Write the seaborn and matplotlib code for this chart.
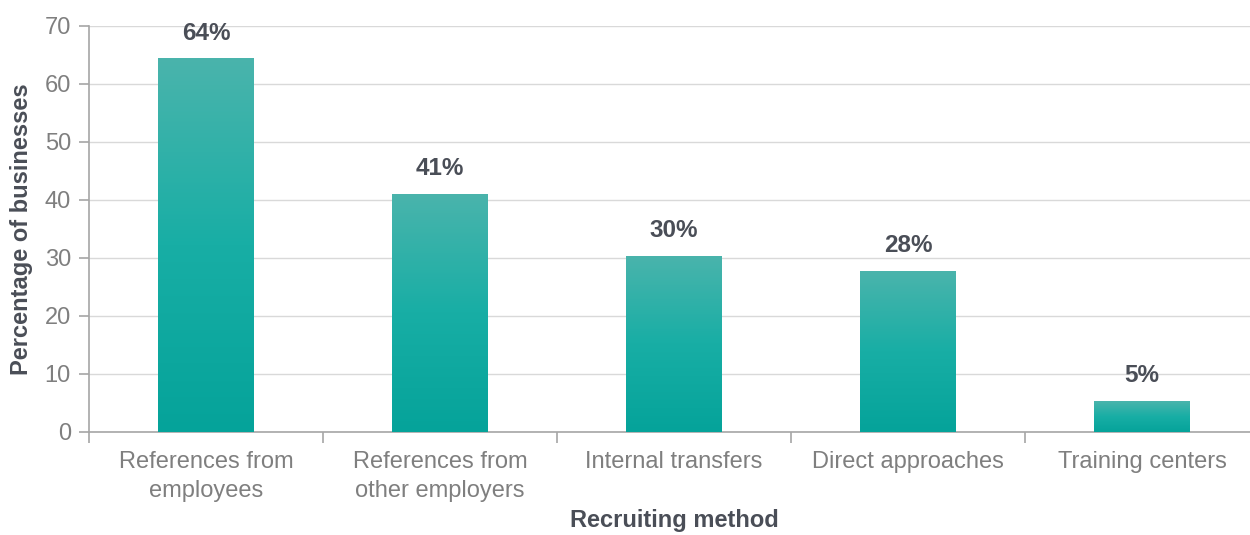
import numpy as np
import pandas as pd
import matplotlib
matplotlib.use("Agg")
import matplotlib.pyplot as plt
from matplotlib.colors import LinearSegmentedColormap
import seaborn as sns

categories = ["References from\nemployees", "References from\nother employers",
              "Internal transfers", "Direct approaches", "Training centers"]
values = [64.4, 41.1, 30.4, 27.7, 5.3]

df = pd.DataFrame({"method": categories, "share": values})

sns.set_theme(style="white")
plt.rcParams["font.family"] = ["Liberation Sans", "DejaVu Sans"]

fig = plt.figure(figsize=(12.5, 5.35), dpi=100)
ax = fig.add_axes([89 / 1250, 103 / 535, 1170 / 1250, 406 / 535])

sns.barplot(data=df, x="method", y="share", ax=ax, width=0.406,
            color="#17ada4", saturation=1, errorbar=None)

# vertical teal gradient inside each bar
cmap = LinearSegmentedColormap.from_list("teal", ["#05a39a", "#18aea5", "#4ab4ac"])
grad = np.linspace(0, 1, 256).reshape(-1, 1)
for patch in ax.patches:
    x0, y0 = patch.get_x(), patch.get_y()
    w, h = patch.get_width(), patch.get_height()
    im = ax.imshow(grad, cmap=cmap, origin="lower", aspect="auto",
                   extent=[x0, x0 + w, y0, y0 + h], zorder=3)
    im.set_clip_path(patch)
    patch.set_facecolor("none")
    patch.set_edgecolor("none")
    ax.text(x0 + w / 2, y0 + h + 2.4, f"{round(h):.0f}%", ha="center", va="bottom",
            fontsize=17.5, fontweight="bold", color="#4a4e57", zorder=4)

ax.set_xlim(-0.5, len(categories) - 0.5)
ax.set_ylim(0, 70)
ax.set_yticks(range(0, 71, 10))
ax.yaxis.grid(True, color="#d9d9d9", linewidth=1.0)
ax.set_axisbelow(True)

for side in ["top", "right"]:
    ax.spines[side].set_visible(False)
for side in ["left", "bottom"]:
    ax.spines[side].set_color("#a6a6a6")
    ax.spines[side].set_linewidth(1.2)

# category ticks sit between bars
ax.set_xticks(np.arange(len(categories)))
ax.set_xticklabels(categories)
ax.set_xticks(np.arange(-0.5, len(categories), 1.0), minor=True)
ax.tick_params(axis="x", which="major", length=0, pad=14,
               labelsize=17, labelcolor="#7f7f7f")
ax.tick_params(axis="x", which="minor", length=8, width=1.2,
               color="#a6a6a6", direction="out", bottom=True)
ax.tick_params(axis="y", which="major", length=7, width=1.2, color="#a6a6a6",
               direction="out", left=True, labelsize=17, labelcolor="#7f7f7f", pad=6)
for lbl in ax.get_xticklabels():
    lbl.set_linespacing(1.38)

ax.set_xlabel("Recruiting method", fontsize=17, fontweight="bold",
              color="#4a4e57", labelpad=5)
ax.set_ylabel("Percentage of businesses", fontsize=17, fontweight="bold",
              color="#4a4e57", labelpad=8)

fig.savefig("out.png", dpi=100)
